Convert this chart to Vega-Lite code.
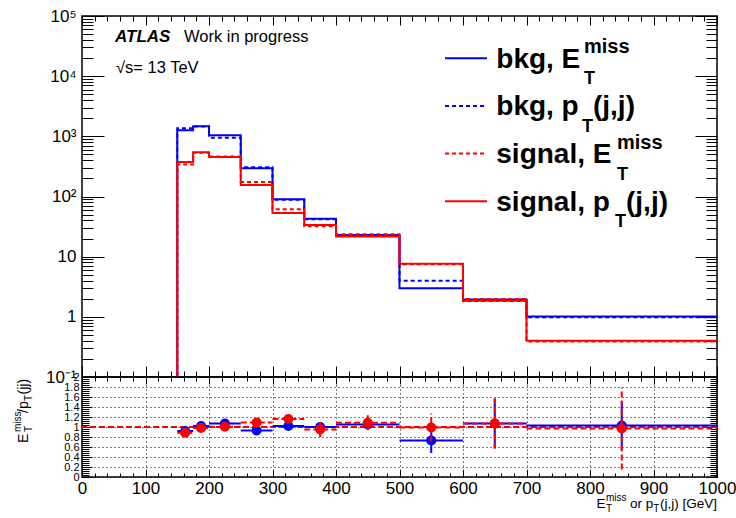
{
  "$schema": "https://vega.github.io/schema/vega-lite/v6.json",
  "padding": {"left": 11, "top": 6, "right": 0, "bottom": 0},
  "bounds": "flush",
  "spacing": 0,
  "background": "white",
  "config": {
    "view": {"stroke": "black", "strokeWidth": 1.5},
    "font": "Liberation Sans",
    "axis": {"labelFont": "Liberation Sans", "labelColor": "black", "tickColor": "black", "tickWidth": 1, "domain": false, "labelFlush": false, "labelOverlap": false, "labelBound": false}
  },
  "datasets": {
    "hist": [
      {"s": "bkg_met", "x": 0, "v": 0.001}, {"s": "bkg_met", "x": 150, "v": 1262}, {"s": "bkg_met", "x": 175, "v": 1473}, {"s": "bkg_met", "x": 200, "v": 1042}, {"s": "bkg_met", "x": 250, "v": 295}, {"s": "bkg_met", "x": 300, "v": 90}, {"s": "bkg_met", "x": 350, "v": 42.5}, {"s": "bkg_met", "x": 400, "v": 23}, {"s": "bkg_met", "x": 500, "v": 3.0}, {"s": "bkg_met", "x": 600, "v": 1.95}, {"s": "bkg_met", "x": 700, "v": 1.01}, {"s": "bkg_met", "x": 1000, "v": 1.01},
      {"s": "bkg_pt", "x": 0, "v": 0.001}, {"s": "bkg_pt", "x": 150, "v": 1360}, {"s": "bkg_pt", "x": 175, "v": 1460}, {"s": "bkg_pt", "x": 200, "v": 950}, {"s": "bkg_pt", "x": 250, "v": 305}, {"s": "bkg_pt", "x": 300, "v": 88}, {"s": "bkg_pt", "x": 350, "v": 42}, {"s": "bkg_pt", "x": 400, "v": 22}, {"s": "bkg_pt", "x": 500, "v": 3.96}, {"s": "bkg_pt", "x": 600, "v": 1.83}, {"s": "bkg_pt", "x": 700, "v": 0.98}, {"s": "bkg_pt", "x": 1000, "v": 0.98},
      {"s": "sig_met", "x": 0, "v": 0.001}, {"s": "sig_met", "x": 150, "v": 340}, {"s": "sig_met", "x": 175, "v": 536}, {"s": "sig_met", "x": 200, "v": 460}, {"s": "sig_met", "x": 250, "v": 175}, {"s": "sig_met", "x": 300, "v": 61.5}, {"s": "sig_met", "x": 350, "v": 32}, {"s": "sig_met", "x": 400, "v": 23.5}, {"s": "sig_met", "x": 500, "v": 7.5}, {"s": "sig_met", "x": 600, "v": 1.98}, {"s": "sig_met", "x": 700, "v": 0.39}, {"s": "sig_met", "x": 1000, "v": 0.39},
      {"s": "sig_pt", "x": 0, "v": 0.001}, {"s": "sig_pt", "x": 150, "v": 376}, {"s": "sig_pt", "x": 175, "v": 545}, {"s": "sig_pt", "x": 200, "v": 455}, {"s": "sig_pt", "x": 250, "v": 156}, {"s": "sig_pt", "x": 300, "v": 53}, {"s": "sig_pt", "x": 350, "v": 33.6}, {"s": "sig_pt", "x": 400, "v": 21.6}, {"s": "sig_pt", "x": 500, "v": 7.6}, {"s": "sig_pt", "x": 600, "v": 1.85}, {"s": "sig_pt", "x": 700, "v": 0.40}, {"s": "sig_pt", "x": 1000, "v": 0.40}
    ],
    "legrule": [
      {"s": "bkg_met", "x": 571.7, "x2": 637.8, "y": 19820},
      {"s": "bkg_pt", "x": 571.7, "x2": 637.8, "y": 3200},
      {"s": "sig_met", "x": 571.7, "x2": 637.8, "y": 516},
      {"s": "sig_pt", "x": 571.7, "x2": 637.8, "y": 83.6}
    ],
    "legmain": [
      {"t": "bkg, E", "x": 652.4, "y": 13840},
      {"t": "bkg, p", "x": 652.4, "y": 2233},
      {"t": "signal, E", "x": 652.4, "y": 360.2},
      {"t": "signal, p", "x": 652.4, "y": 58.3},
      {"t": "(j,j)", "x": 804.7, "y": 2233},
      {"t": "(j,j)", "x": 856.7, "y": 58.3}
    ],
    "legsup": [
      {"t": "miss", "x": 790.6, "y": 13840},
      {"t": "miss", "x": 842.5, "y": 360.2}
    ],
    "legsub": [
      {"t": "T", "x": 790.6, "y": 13840},
      {"t": "T", "x": 787.4, "y": 2233},
      {"t": "T", "x": 842.5, "y": 360.2},
      {"t": "T", "x": 839.4, "y": 58.3}
    ],
    "atlas": [{"t": "ATLAS", "x": 52, "y": 37440}],
    "plain": [
      {"t": "Work in progress", "x": 160.6, "y": 37440},
      {"t": "√s= 13 TeV", "x": 53.5, "y": 11170}
    ],
    "rbkg": [
      {"x": 162.5, "lo": 150, "hi": 175, "r": 0.92, "elo": 0.89, "ehi": 0.95},
      {"x": 187.5, "lo": 175, "hi": 200, "r": 1.02, "elo": 0.99, "ehi": 1.05},
      {"x": 225, "lo": 200, "hi": 250, "r": 1.07, "elo": 1.04, "ehi": 1.10},
      {"x": 275, "lo": 250, "hi": 300, "r": 0.93, "elo": 0.89, "ehi": 0.97},
      {"x": 325, "lo": 300, "hi": 350, "r": 1.02, "elo": 0.97, "ehi": 1.07},
      {"x": 375, "lo": 350, "hi": 400, "r": 1.0, "elo": 0.94, "ehi": 1.06},
      {"x": 450, "lo": 400, "hi": 500, "r": 1.05, "elo": 0.99, "ehi": 1.11},
      {"x": 550, "lo": 500, "hi": 600, "r": 0.73, "elo": 0.48, "ehi": 0.98},
      {"x": 650, "lo": 600, "hi": 700, "r": 1.07, "elo": 0.57, "ehi": 1.57},
      {"x": 850, "lo": 700, "hi": 1000, "r": 1.03, "elo": 0.55, "ehi": 1.51}
    ],
    "rsig": [
      {"x": 162.5, "lo": 150, "hi": 175, "r": 0.886, "elo": 0.846, "ehi": 0.926},
      {"x": 187.5, "lo": 175, "hi": 200, "r": 0.98, "elo": 0.94, "ehi": 1.02},
      {"x": 225, "lo": 200, "hi": 250, "r": 1.006, "elo": 0.966, "ehi": 1.046},
      {"x": 275, "lo": 250, "hi": 300, "r": 1.09, "elo": 1.03, "ehi": 1.15},
      {"x": 325, "lo": 300, "hi": 350, "r": 1.16, "elo": 1.09, "ehi": 1.23},
      {"x": 375, "lo": 350, "hi": 400, "r": 0.95, "elo": 0.80, "ehi": 1.10},
      {"x": 450, "lo": 400, "hi": 500, "r": 1.086, "elo": 0.936, "ehi": 1.236},
      {"x": 550, "lo": 500, "hi": 600, "r": 0.99, "elo": 0.71, "ehi": 1.27},
      {"x": 650, "lo": 600, "hi": 700, "r": 1.07, "elo": 0.57, "ehi": 1.57},
      {"x": 850, "lo": 700, "hi": 1000, "r": 0.97, "elo": 0.15, "ehi": 1.79}
    ],
    "ytmain": [
      {"t": "E", "x": -85.8, "y": 0.68},
      {"t": "/p", "x": -85.8, "y": 1.28},
      {"t": "(jj)", "x": -85.8, "y": 1.65}
    ],
    "ytsup": [{"t": "miss", "x": -85.8, "y": 0.9}],
    "ytsub": [
      {"t": "T", "x": -85.8, "y": 0.9},
      {"t": "T", "x": -85.8, "y": 1.52}
    ],
    "xtmain": [
      {"t": "E", "x": 810.4, "y": -0.626},
      {"t": "or p", "x": 863.0, "y": -0.626}
    ],
    "xtend": [{"t": "(j,j) [GeV]", "x": 1000, "y": -0.626}],
    "xtsup": [{"t": "miss", "x": 825.2, "y": -0.626}],
    "xtsub": [
      {"t": "T", "x": 825.2, "y": -0.626},
      {"t": "T", "x": 899.5, "y": -0.626}
    ]
  },
  "vconcat": [
    {
      "width": 635,
      "height": 361,
      "resolve": {"axis": {"x": "independent", "y": "independent"}},
      "layer": [
        {
          "data": {"name": "hist"},
          "mark": {"type": "line", "interpolate": "step-after", "strokeWidth": 2, "clip": true},
          "encoding": {
            "x": {"field": "x", "type": "quantitative", "scale": {"domain": [0, 1000], "nice": false, "zero": false},
              "axis": {"orient": "bottom", "values": [0,100,200,300,400,500,600,700,800,900,1000], "labels": false, "tickSize": -11, "grid": false, "title": null}},
            "y": {"field": "v", "type": "quantitative", "scale": {"type": "log", "domain": [0.1, 100000], "nice": false},
              "axis": {"orient": "left", "values": [0.1,1,10,100,1000,10000,100000], "tickSize": -22, "labelPadding": 28, "labelFontSize": 17, "grid": false, "title": null,
                "labelExpr": "datum.value >= 99999 ? '10⁵' : datum.value >= 9999 ? '10⁴' : datum.value >= 999 ? '10³' : datum.value >= 99 ? '10²' : datum.value >= 9 ? '10' : datum.value >= 0.9 ? '1' : '10⁻¹'"}},
            "color": {"field": "s", "type": "nominal", "scale": {"domain": ["bkg_met","bkg_pt","sig_met","sig_pt"], "range": ["#0000ff","#0000ff","#ff0000","#ff0000"]}, "legend": null},
            "strokeDash": {"field": "s", "type": "nominal", "scale": {"domain": ["bkg_met","bkg_pt","sig_met","sig_pt"], "range": [[1,0],[4,3],[4,3],[1,0]]}, "legend": null}
          }
        },
        {
          "data": {"name": "legrule"},
          "mark": {"type": "rule", "strokeWidth": 2},
          "encoding": {
            "x": {"field": "x", "type": "quantitative", "scale": {"domain": [0, 1000], "nice": false, "zero": false},
              "axis": {"orient": "bottom", "values": [0,20,40,60,80,100,120,140,160,180,200,220,240,260,280,300,320,340,360,380,400,420,440,460,480,500,520,540,560,580,600,620,640,660,680,700,720,740,760,780,800,820,840,860,880,900,920,940,960,980,1000], "labels": false, "tickSize": -6, "grid": false, "title": null}},
            "x2": {"field": "x2"},
            "y": {"field": "y", "type": "quantitative", "scale": {"type": "log", "domain": [0.1, 100000], "nice": false},
              "axis": {"orient": "left", "values": [0.2,0.3,0.4,0.5,0.6,0.7,0.8,0.9,2,3,4,5,6,7,8,9,20,30,40,50,60,70,80,90,200,300,400,500,600,700,800,900,2000,3000,4000,5000,6000,7000,8000,9000,20000,30000,40000,50000,60000,70000,80000,90000], "labels": false, "tickSize": -11, "grid": false, "title": null}},
            "color": {"field": "s", "type": "nominal", "scale": {"domain": ["bkg_met","bkg_pt","sig_met","sig_pt"], "range": ["#0000ff","#0000ff","#ff0000","#ff0000"]}, "legend": null},
            "strokeDash": {"field": "s", "type": "nominal", "scale": {"domain": ["bkg_met","bkg_pt","sig_met","sig_pt"], "range": [[1,0],[4,3],[4,3],[1,0]]}, "legend": null}
          }
        },
        {
          "data": {"name": "legmain"},
          "mark": {"type": "text", "align": "left", "baseline": "alphabetic", "font": "Liberation Sans", "fontWeight": "bold", "fontSize": 28, "color": "black"},
          "encoding": {
            "x": {"field": "x", "type": "quantitative", "scale": {"domain": [0, 1000], "nice": false, "zero": false},
              "axis": {"orient": "top", "values": [0,100,200,300,400,500,600,700,800,900,1000], "labels": false, "tickSize": -9, "grid": false, "title": null}},
            "y": {"field": "y", "type": "quantitative", "scale": {"type": "log", "domain": [0.1, 100000], "nice": false},
              "axis": {"orient": "right", "values": [0.1,1,10,100,1000,10000,100000], "labels": false, "tickSize": -22, "grid": false, "title": null}},
            "text": {"field": "t"}
          }
        },
        {
          "data": {"name": "legsup"},
          "mark": {"type": "text", "align": "left", "baseline": "alphabetic", "font": "Liberation Sans", "fontWeight": "bold", "fontSize": 20, "dy": -14.4, "color": "black"},
          "encoding": {
            "x": {"field": "x", "type": "quantitative", "scale": {"domain": [0, 1000], "nice": false, "zero": false},
              "axis": {"orient": "top", "values": [0,20,40,60,80,100,120,140,160,180,200,220,240,260,280,300,320,340,360,380,400,420,440,460,480,500,520,540,560,580,600,620,640,660,680,700,720,740,760,780,800,820,840,860,880,900,920,940,960,980,1000], "labels": false, "tickSize": -5, "grid": false, "title": null}},
            "y": {"field": "y", "type": "quantitative", "scale": {"type": "log", "domain": [0.1, 100000], "nice": false},
              "axis": {"orient": "right", "values": [0.2,0.3,0.4,0.5,0.6,0.7,0.8,0.9,2,3,4,5,6,7,8,9,20,30,40,50,60,70,80,90,200,300,400,500,600,700,800,900,2000,3000,4000,5000,6000,7000,8000,9000,20000,30000,40000,50000,60000,70000,80000,90000], "labels": false, "tickSize": -11, "grid": false, "title": null}},
            "text": {"field": "t"}
          }
        },
        {
          "data": {"name": "legsub"},
          "mark": {"type": "text", "align": "left", "baseline": "alphabetic", "font": "Liberation Sans", "fontWeight": "bold", "fontSize": 18, "dy": 16.6, "color": "black"},
          "encoding": {
            "x": {"field": "x", "type": "quantitative", "scale": {"domain": [0, 1000], "nice": false, "zero": false}, "axis": null},
            "y": {"field": "y", "type": "quantitative", "scale": {"type": "log", "domain": [0.1, 100000], "nice": false}, "axis": null},
            "text": {"field": "t"}
          }
        },
        {
          "data": {"name": "atlas"},
          "mark": {"type": "text", "align": "left", "baseline": "alphabetic", "font": "Liberation Sans", "fontWeight": "bold", "fontStyle": "italic", "fontSize": 17, "color": "black"},
          "encoding": {
            "x": {"field": "x", "type": "quantitative", "scale": {"domain": [0, 1000], "nice": false, "zero": false}, "axis": null},
            "y": {"field": "y", "type": "quantitative", "scale": {"type": "log", "domain": [0.1, 100000], "nice": false}, "axis": null},
            "text": {"field": "t"}
          }
        },
        {
          "data": {"name": "plain"},
          "mark": {"type": "text", "align": "left", "baseline": "alphabetic", "font": "Liberation Sans", "fontSize": 16.5, "color": "black"},
          "encoding": {
            "x": {"field": "x", "type": "quantitative", "scale": {"domain": [0, 1000], "nice": false, "zero": false}, "axis": null},
            "y": {"field": "y", "type": "quantitative", "scale": {"type": "log", "domain": [0.1, 100000], "nice": false}, "axis": null},
            "text": {"field": "t"}
          }
        }
      ]
    },
    {
      "width": 635,
      "height": 100,
      "resolve": {"axis": {"x": "independent", "y": "independent"}},
      "layer": [
        {
          "data": {"values": [{}]},
          "mark": {"type": "rule", "color": "#ff0000", "strokeDash": [6, 3], "strokeWidth": 2},
          "encoding": {
            "y": {"datum": 1, "type": "quantitative", "scale": {"domain": [0, 2], "nice": false, "zero": false}, "axis": null}
          }
        },
        {
          "data": {"name": "rbkg"},
          "mark": {"type": "rule", "color": "#0000ff", "strokeWidth": 2},
          "encoding": {
            "x": {"field": "lo", "type": "quantitative", "scale": {"domain": [0, 1000], "nice": false, "zero": false},
              "axis": {"orient": "bottom", "values": [0,100,200,300,400,500,600,700,800,900,1000], "format": "d", "tickSize": -7, "labelPadding": 10, "labelFontSize": 17, "grid": true, "gridDash": [1, 3], "gridColor": "black", "gridOpacity": 1, "gridWidth": 1, "title": null}},
            "x2": {"field": "hi"},
            "y": {"field": "r", "type": "quantitative", "scale": {"domain": [0, 2], "nice": false, "zero": false},
              "axis": {"orient": "left", "values": [0,0.2,0.4,0.6,0.8,1,1.2,1.4,1.6,1.8,2], "format": ".1~f", "tickSize": -10, "labelPadding": 13, "labelFontSize": 11, "grid": true, "gridDash": [1, 3], "gridColor": "black", "gridOpacity": 1, "gridWidth": 1, "title": null}}
          }
        },
        {
          "data": {"name": "rbkg"},
          "mark": {"type": "rule", "color": "#0000ff", "strokeWidth": 2},
          "encoding": {
            "x": {"field": "x", "type": "quantitative", "scale": {"domain": [0, 1000], "nice": false, "zero": false},
              "axis": {"orient": "bottom", "values": [0,20,40,60,80,100,120,140,160,180,200,220,240,260,280,300,320,340,360,380,400,420,440,460,480,500,520,540,560,580,600,620,640,660,680,700,720,740,760,780,800,820,840,860,880,900,920,940,960,980,1000], "labels": false, "tickSize": -4, "grid": false, "title": null}},
            "y": {"field": "elo", "type": "quantitative", "scale": {"domain": [0, 2], "nice": false, "zero": false},
              "axis": {"orient": "left", "values": [0,0.04,0.08,0.12,0.16,0.2,0.24,0.28,0.32,0.36,0.4,0.44,0.48,0.52,0.56,0.6,0.64,0.68,0.72,0.76,0.8,0.84,0.88,0.92,0.96,1,1.04,1.08,1.12,1.16,1.2,1.24,1.28,1.32,1.36,1.4,1.44,1.48,1.52,1.56,1.6,1.64,1.68,1.72,1.76,1.8,1.84,1.88,1.92,1.96,2], "labels": false, "tickSize": -7, "grid": false, "title": null}},
            "y2": {"field": "ehi"}
          }
        },
        {
          "data": {"name": "rbkg"},
          "mark": {"type": "point", "shape": "circle", "filled": true, "size": 100, "color": "#0000ff", "opacity": 1},
          "encoding": {
            "x": {"field": "x", "type": "quantitative", "scale": {"domain": [0, 1000], "nice": false, "zero": false},
              "axis": {"orient": "top", "values": [0,100,200,300,400,500,600,700,800,900,1000], "labels": false, "tickSize": -7, "grid": false, "title": null}},
            "y": {"field": "r", "type": "quantitative", "scale": {"domain": [0, 2], "nice": false, "zero": false},
              "axis": {"orient": "right", "values": [0,0.2,0.4,0.6,0.8,1,1.2,1.4,1.6,1.8,2], "labels": false, "tickSize": -10, "grid": false, "title": null}}
          }
        },
        {
          "data": {"name": "rsig"},
          "mark": {"type": "rule", "color": "#ff0000", "strokeWidth": 2, "strokeDash": [6, 3]},
          "encoding": {
            "x": {"field": "lo", "type": "quantitative", "scale": {"domain": [0, 1000], "nice": false, "zero": false},
              "axis": {"orient": "top", "values": [0,20,40,60,80,100,120,140,160,180,200,220,240,260,280,300,320,340,360,380,400,420,440,460,480,500,520,540,560,580,600,620,640,660,680,700,720,740,760,780,800,820,840,860,880,900,920,940,960,980,1000], "labels": false, "tickSize": -4, "grid": false, "title": null}},
            "x2": {"field": "hi"},
            "y": {"field": "r", "type": "quantitative", "scale": {"domain": [0, 2], "nice": false, "zero": false},
              "axis": {"orient": "right", "values": [0,0.04,0.08,0.12,0.16,0.2,0.24,0.28,0.32,0.36,0.4,0.44,0.48,0.52,0.56,0.6,0.64,0.68,0.72,0.76,0.8,0.84,0.88,0.92,0.96,1,1.04,1.08,1.12,1.16,1.2,1.24,1.28,1.32,1.36,1.4,1.44,1.48,1.52,1.56,1.6,1.64,1.68,1.72,1.76,1.8,1.84,1.88,1.92,1.96,2], "labels": false, "tickSize": -7, "grid": false, "title": null}}
          }
        },
        {
          "data": {"name": "rsig"},
          "mark": {"type": "rule", "color": "#ff0000", "strokeWidth": 2, "strokeDash": [6, 3]},
          "encoding": {
            "x": {"field": "x", "type": "quantitative", "scale": {"domain": [0, 1000], "nice": false, "zero": false}, "axis": null},
            "y": {"field": "elo", "type": "quantitative", "scale": {"domain": [0, 2], "nice": false, "zero": false}, "axis": null},
            "y2": {"field": "ehi"}
          }
        },
        {
          "data": {"name": "rsig"},
          "mark": {"type": "point", "shape": "circle", "filled": true, "size": 100, "color": "#ff0000", "opacity": 1},
          "encoding": {
            "x": {"field": "x", "type": "quantitative", "scale": {"domain": [0, 1000], "nice": false, "zero": false}, "axis": null},
            "y": {"field": "r", "type": "quantitative", "scale": {"domain": [0, 2], "nice": false, "zero": false}, "axis": null}
          }
        },
        {
          "data": {"name": "ytmain"},
          "mark": {"type": "text", "angle": 270, "align": "left", "baseline": "alphabetic", "font": "Liberation Sans", "fontSize": 14, "color": "black"},
          "encoding": {
            "x": {"field": "x", "type": "quantitative", "scale": {"domain": [0, 1000], "nice": false, "zero": false}, "axis": null},
            "y": {"field": "y", "type": "quantitative", "scale": {"domain": [0, 2], "nice": false, "zero": false}, "axis": null},
            "text": {"field": "t"}
          }
        },
        {
          "data": {"name": "ytsup"},
          "mark": {"type": "text", "angle": 270, "align": "left", "baseline": "alphabetic", "font": "Liberation Sans", "fontSize": 10, "dy": -7, "color": "black"},
          "encoding": {
            "x": {"field": "x", "type": "quantitative", "scale": {"domain": [0, 1000], "nice": false, "zero": false}, "axis": null},
            "y": {"field": "y", "type": "quantitative", "scale": {"domain": [0, 2], "nice": false, "zero": false}, "axis": null},
            "text": {"field": "t"}
          }
        },
        {
          "data": {"name": "ytsub"},
          "mark": {"type": "text", "angle": 270, "align": "left", "baseline": "alphabetic", "font": "Liberation Sans", "fontSize": 10, "dy": 4, "color": "black"},
          "encoding": {
            "x": {"field": "x", "type": "quantitative", "scale": {"domain": [0, 1000], "nice": false, "zero": false}, "axis": null},
            "y": {"field": "y", "type": "quantitative", "scale": {"domain": [0, 2], "nice": false, "zero": false}, "axis": null},
            "text": {"field": "t"}
          }
        },
        {
          "data": {"name": "xtmain"},
          "mark": {"type": "text", "align": "left", "baseline": "alphabetic", "font": "Liberation Sans", "fontSize": 13.5, "color": "black"},
          "encoding": {
            "x": {"field": "x", "type": "quantitative", "scale": {"domain": [0, 1000], "nice": false, "zero": false}, "axis": null},
            "y": {"field": "y", "type": "quantitative", "scale": {"domain": [0, 2], "nice": false, "zero": false}, "axis": null},
            "text": {"field": "t"}
          }
        },
        {
          "data": {"name": "xtend"},
          "mark": {"type": "text", "align": "right", "baseline": "alphabetic", "font": "Liberation Sans", "fontSize": 13.5, "color": "black"},
          "encoding": {
            "x": {"field": "x", "type": "quantitative", "scale": {"domain": [0, 1000], "nice": false, "zero": false}, "axis": null},
            "y": {"field": "y", "type": "quantitative", "scale": {"domain": [0, 2], "nice": false, "zero": false}, "axis": null},
            "text": {"field": "t"}
          }
        },
        {
          "data": {"name": "xtsup"},
          "mark": {"type": "text", "align": "left", "baseline": "alphabetic", "font": "Liberation Sans", "fontSize": 10, "dy": -7, "color": "black"},
          "encoding": {
            "x": {"field": "x", "type": "quantitative", "scale": {"domain": [0, 1000], "nice": false, "zero": false}, "axis": null},
            "y": {"field": "y", "type": "quantitative", "scale": {"domain": [0, 2], "nice": false, "zero": false}, "axis": null},
            "text": {"field": "t"}
          }
        },
        {
          "data": {"name": "xtsub"},
          "mark": {"type": "text", "align": "left", "baseline": "alphabetic", "font": "Liberation Sans", "fontSize": 10, "dy": 4, "color": "black"},
          "encoding": {
            "x": {"field": "x", "type": "quantitative", "scale": {"domain": [0, 1000], "nice": false, "zero": false}, "axis": null},
            "y": {"field": "y", "type": "quantitative", "scale": {"domain": [0, 2], "nice": false, "zero": false}, "axis": null},
            "text": {"field": "t"}
          }
        }
      ]
    }
  ]
}
